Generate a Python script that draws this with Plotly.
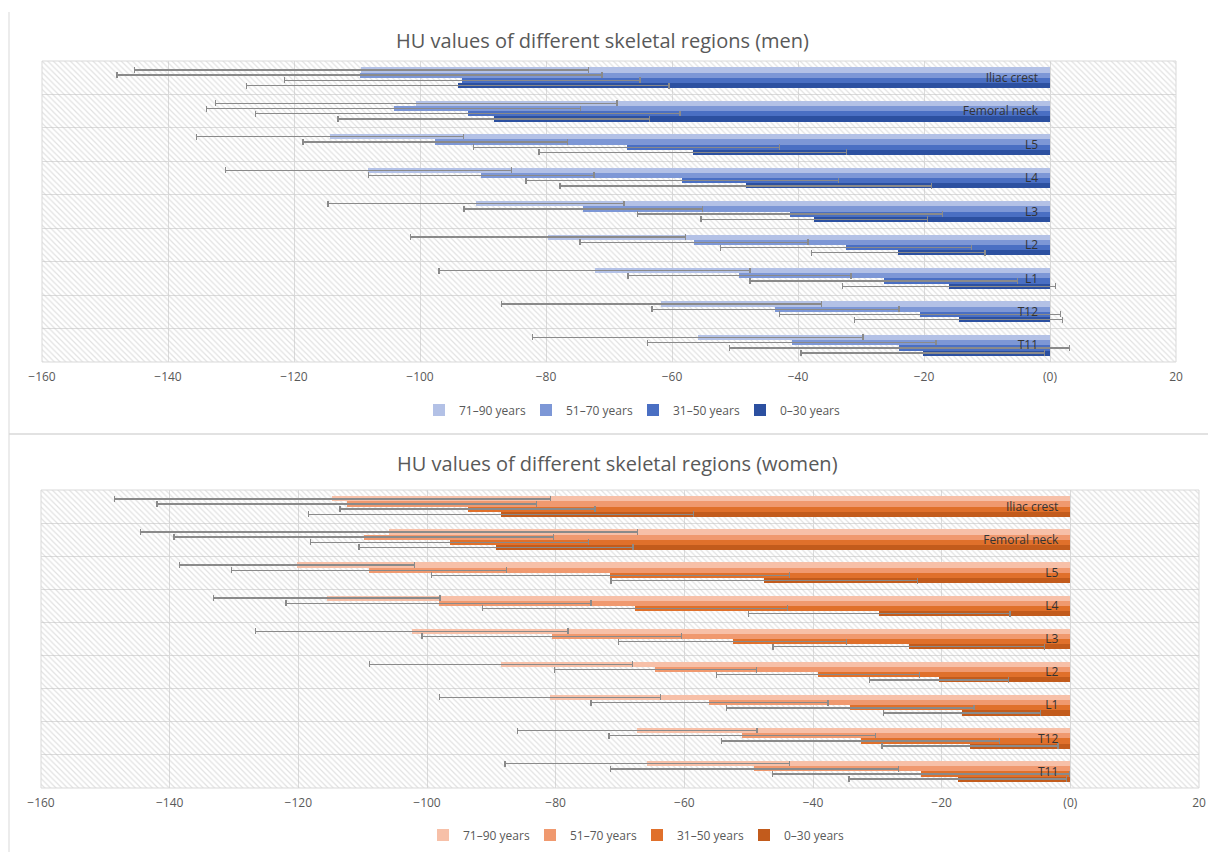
import plotly.graph_objects as go

# Skeletal regions, listed from top to bottom
regions = ["Iliac crest", "Femoral neck", "L5", "L4", "L3", "L2", "L1", "T12", "T11"]
age_groups = ["71–90 years", "51–70 years", "31–50 years", "0–30 years"]

# Men: mean HU values and standard deviations per age group
men_71_90 = [-109.3, -100.6, -114.3, -108.2, -91.1, -79.7, -72.3, -61.7, -55.9]
men_71_90_sd = [36.0, 31.9, 21.2, 22.7, 23.5, 21.8, 24.7, 25.4, 26.2]
men_51_70 = [-109.6, -104.2, -97.6, -90.3, -74.1, -56.5, -49.3, -43.6, -41.0]
men_51_70_sd = [38.5, 29.7, 21.0, 17.9, 18.9, 18.1, 17.7, 19.6, 22.9]
men_31_50 = [-93.3, -92.4, -67.2, -58.4, -41.3, -32.4, -26.4, -20.6, -23.9]
men_31_50_sd = [28.2, 33.7, 24.3, 24.8, 24.2, 19.9, 21.2, 22.3, 27.0]
men_0_30 = [-94.0, -88.3, -56.7, -48.3, -37.4, -24.1, -16.0, -14.5, -20.2]
men_0_30_sd = [33.5, 24.7, 24.4, 29.5, 18.0, 13.8, 16.9, 16.5, 19.3]

# Women: mean HU values and standard deviations per age group
women_71_90 = [-114.7, -105.9, -120.2, -115.6, -102.4, -88.5, -80.9, -67.3, -65.8]
women_71_90_sd = [33.9, 38.6, 18.3, 17.6, 24.3, 20.4, 17.2, 18.6, 22.1]
women_51_70 = [-112.5, -109.8, -109.0, -98.2, -80.6, -64.5, -56.1, -51.0, -49.1]
women_51_70_sd = [29.5, 29.5, 21.4, 23.7, 20.2, 15.7, 18.4, 20.7, 22.4]
women_31_50 = [-93.7, -96.5, -71.5, -67.7, -52.5, -39.2, -34.2, -32.6, -23.2]
women_31_50_sd = [19.8, 21.6, 27.8, 23.7, 17.7, 15.8, 19.2, 21.6, 23.1]
women_0_30 = [-88.5, -89.3, -47.6, -29.7, -25.1, -20.4, -16.8, -15.6, -17.5]
women_0_30_sd = [29.9, 21.3, 23.8, 20.3, 21.1, 10.8, 12.2, 13.7, 16.9]

x_ticks = [-160, -140, -120, -100, -80, -60, -40, -20, 0, 20]
x_ticklabels = ["−160", "−140", "−120", "−100", "−80", "−60", "−40", "−20", "(0)", "20"]

men_colors = ["#b3c1e6", "#7d97d6", "#4a6fc3", "#2c50a0"]
women_colors = ["#f7c0a8", "#f0996f", "#e0702b", "#c25b1c"]

W, H = 1208, 852
X_MIN, X_MAX = -160, 20

# Plot areas in pixels: (left, right, top, bottom)
panels = {
    "men": (42, 1176, 61, 362),
    "women": (41, 1199, 490, 788),
}


def dom(panel):
    l, r, t, b = panel
    return [l / W, r / W], [1 - b / H, 1 - t / H]


fig = go.Figure()

bar_w = 0.156
offsets = [-2 * bar_w, -bar_w, 0.0, bar_w]


def add_panel(xa, ya, legend, series, sds, colors):
    # hatched plot-area background, one tile per category
    fig.add_trace(go.Bar(
        y=regions, x=[X_MAX - X_MIN] * len(regions), base=[X_MIN] * len(regions),
        orientation="h", width=1.0, offset=-0.5,
        marker=dict(color="rgba(0,0,0,0)", line=dict(width=0),
                    pattern=dict(shape="\\", fgcolor="#c4c4c4", bgcolor="rgba(0,0,0,0)",
                                 size=4, solidity=0.3)),
        showlegend=False, hoverinfo="skip", xaxis=xa, yaxis=ya,
    ))
    for name, vals, sd, col, off in zip(age_groups, series, sds, colors, offsets):
        fig.add_trace(go.Bar(
            y=regions, x=vals, name=name, orientation="h",
            width=bar_w, offset=off,
            marker=dict(color=col, line=dict(width=0)),
            error_x=dict(type="data", array=sd, symmetric=True,
                         color="#8a8a8a", thickness=1.4, width=3),
            xaxis=xa, yaxis=ya, legend=legend,
        ))


add_panel("x", "y", "legend",
          [men_71_90, men_51_70, men_31_50, men_0_30],
          [men_71_90_sd, men_51_70_sd, men_31_50_sd, men_0_30_sd], men_colors)
add_panel("x2", "y2", "legend2",
          [women_71_90, women_51_70, women_31_50, women_0_30],
          [women_71_90_sd, women_51_70_sd, women_31_50_sd, women_0_30_sd], women_colors)

font_family = "Open Sans, Noto Sans, sans-serif"
axis_font = dict(family=font_family, size=12, color="#595959")
cat_font = dict(family=font_family, size=12, color="#333333")

layout_axes = {}
for i, key in enumerate(["men", "women"]):
    sfx = "" if i == 0 else "2"
    xd, yd = dom(panels[key])
    y_pos = xd[0] + (0 - X_MIN) / (X_MAX - X_MIN) * (xd[1] - xd[0])
    layout_axes["xaxis" + sfx] = dict(
        domain=xd, range=[X_MIN, X_MAX], anchor="y" + sfx,
        tickvals=x_ticks, ticktext=x_ticklabels, tickfont=axis_font,
        showgrid=True, gridcolor="#dcdcdc", gridwidth=1,
        zeroline=False, showline=False, ticks="", ticklabelstandoff=6,
        automargin=False, fixedrange=True,
    )
    layout_axes["yaxis" + sfx] = dict(
        domain=yd, type="category", categoryorder="array", categoryarray=regions,
        range=[len(regions) - 0.5, -0.5], anchor="free", position=y_pos,
        tickson="boundaries", showgrid=True, gridcolor="#dcdcdc", gridwidth=1,
        zeroline=False, showline=False, ticks="", tickfont=cat_font,
        ticklabelstandoff=12, automargin=False, fixedrange=True,
    )

shapes = []
for key in ["men", "women"]:
    l, r, t, b = panels[key]
    shapes.append(dict(type="rect", xref="paper", yref="paper",
                       x0=l / W, x1=r / W, y0=1 - b / H, y1=1 - t / H,
                       line=dict(color="#d9d9d9", width=1), layer="above"))
# chart borders
shapes.append(dict(type="line", xref="paper", yref="paper",
                   x0=9 / W, x1=9 / W, y0=0, y1=1 - 12 / H,
                   line=dict(color="#d9d9d9", width=1)))
shapes.append(dict(type="line", xref="paper", yref="paper",
                   x0=9 / W, x1=1, y0=1 - 434 / H, y1=1 - 434 / H,
                   line=dict(color="#d9d9d9", width=1.5)))

title_font = dict(family=font_family, size=20, color="#595959")
annotations = [
    dict(text="HU values of different skeletal regions (men)", x=602 / W, y=1 - 40 / H,
         xref="paper", yref="paper", showarrow=False, font=title_font,
         xanchor="center", yanchor="middle"),
    dict(text="HU values of different skeletal regions (women)", x=617 / W, y=1 - 463 / H,
         xref="paper", yref="paper", showarrow=False, font=title_font,
         xanchor="center", yanchor="middle"),
]

legend_style = dict(orientation="h", xanchor="center", yanchor="middle",
                    font=dict(family=font_family, size=12, color="#595959"),
                    bgcolor="rgba(0,0,0,0)", traceorder="normal",
                    itemwidth=30, entrywidth=62, entrywidthmode="pixels")

fig.update_layout(
    width=W, height=H, margin=dict(l=0, r=0, t=0, b=0, autoexpand=False),
    paper_bgcolor="white", plot_bgcolor="white",
    barmode="overlay", bargap=0,
    shapes=shapes, annotations=annotations,
    legend=dict(x=633 / W, y=1 - 410 / H, **legend_style),
    legend2=dict(x=637 / W, y=1 - 835 / H, **legend_style),
    **layout_axes,
)

fig.write_html("out.html")
